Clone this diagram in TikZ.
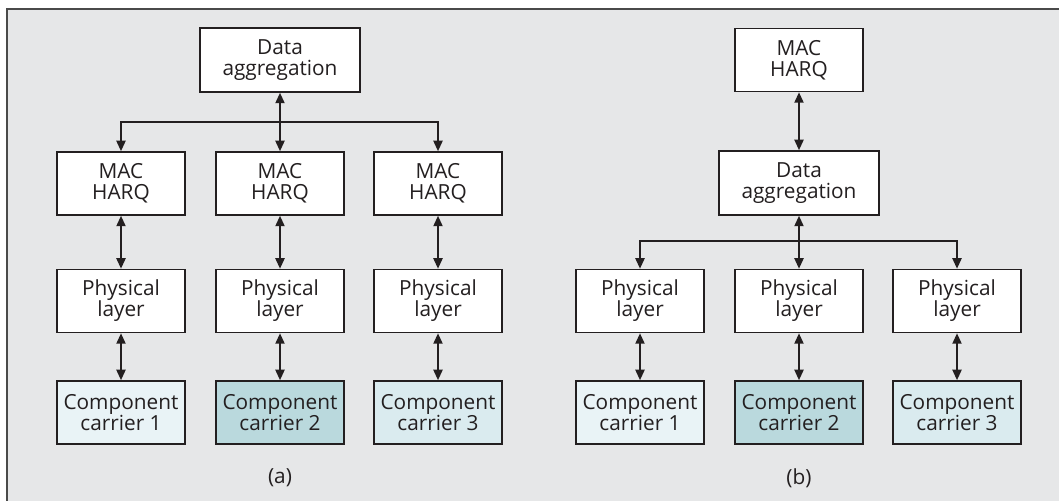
\documentclass[tikz,border=0pt]{standalone}
\usepackage{fontspec}
\setmainfont{Open Sans}
\usetikzlibrary{arrows.meta}

\definecolor{panelgray}{HTML}{E6E7E8}
\definecolor{framegray}{HTML}{4A4A4A}
\definecolor{inkgray}{HTML}{231F20}
\definecolor{ccone}{HTML}{E9F3F6}
\definecolor{cctwo}{HTML}{BAD9DD}
\definecolor{ccthree}{HTML}{DAEBEF}

\tikzset{
    blk/.style={rectangle, draw=inkgray, line width=0.85pt, fill=white,
        minimum width=64pt, minimum height=31.5pt, inner sep=0pt,
        align=center, text=inkgray, font=\fontsize{10.4}{10.6}\selectfont},
    wideblk/.style={blk, minimum width=80pt, minimum height=32pt},
    link/.style={line width=0.75pt, draw=inkgray,
        arrows={Triangle[length=5.2pt,width=4.6pt]-Triangle[length=5.2pt,width=4.6pt]}},
    feed/.style={line width=0.75pt, draw=inkgray,
        arrows={-Triangle[length=5.2pt,width=4.6pt]}},
    caption/.style={text=inkgray, font=\fontsize{10.4}{12}\selectfont}
}

\begin{document}
\begin{tikzpicture}[x=0.5pt, y=-0.5pt]

        \useasboundingbox (0,0) rectangle (1059,501);
        \fill[panelgray] (7,9) rectangle (1059,501);
        \draw[framegray, line width=1pt] (1059,9) -- (7,9) -- (7,501);

        % (a)
        \node[wideblk] (agga) at (280,60) {Data\\aggregation};

        \node[blk] (maca1) at (121,183.5) {MAC\\HARQ};
        \node[blk] (maca2) at (280,183.5) {MAC\\HARQ};
        \node[blk] (maca3) at (438,183.5) {MAC\\HARQ};

        \node[blk] (phya1) at (121,301) {Physical\\layer};
        \node[blk] (phya2) at (280,301) {Physical\\layer};
        \node[blk] (phya3) at (438,301) {Physical\\layer};

        \node[blk, fill=ccone] (cca1) at (121,412.5) {Component\\carrier 1};
        \node[blk, fill=cctwo] (cca2) at (280,412.5) {Component\\carrier 2};
        \node[blk, fill=ccthree] (cca3) at (438,412.5) {Component\\carrier 3};

        \coordinate (busa) at (280,122);
        \draw[link] (agga) -- (maca2);
        \draw[feed] (busa) -| (maca1);
        \draw[feed] (busa) -| (maca3);

        \draw[link] (maca1) -- (phya1);
        \draw[link] (maca2) -- (phya2);
        \draw[link] (maca3) -- (phya3);
        \draw[link] (phya1) -- (cca1);
        \draw[link] (phya2) -- (cca2);
        \draw[link] (phya3) -- (cca3);

        \node[caption] (capa) at (280,478) {(a)};

        % (b)
        \node[blk] (macb) at (799,60) {MAC\\HARQ};
        \node[wideblk] (aggb) at (799,183) {Data\\aggregation};

        \node[blk] (phyb1) at (640,301) {Physical\\layer};
        \node[blk] (phyb2) at (799,301) {Physical\\layer};
        \node[blk] (phyb3) at (957,301) {Physical\\layer};

        \node[blk, fill=ccone] (ccb1) at (640,412.5) {Component\\carrier 1};
        \node[blk, fill=cctwo] (ccb2) at (799,412.5) {Component\\carrier 2};
        \node[blk, fill=ccthree] (ccb3) at (957,412.5) {Component\\carrier 3};

        \coordinate (busb) at (799,241);
        \draw[link] (macb) -- (aggb);
        \draw[link] (aggb) -- (phyb2);
        \draw[feed] (busb) -| (phyb1);
        \draw[feed] (busb) -| (phyb3);

        \draw[link] (phyb1) -- (ccb1);
        \draw[link] (phyb2) -- (ccb2);
        \draw[link] (phyb3) -- (ccb3);

        \node[caption] (capb) at (799,478) {(b)};

\end{tikzpicture}
\end{document}
